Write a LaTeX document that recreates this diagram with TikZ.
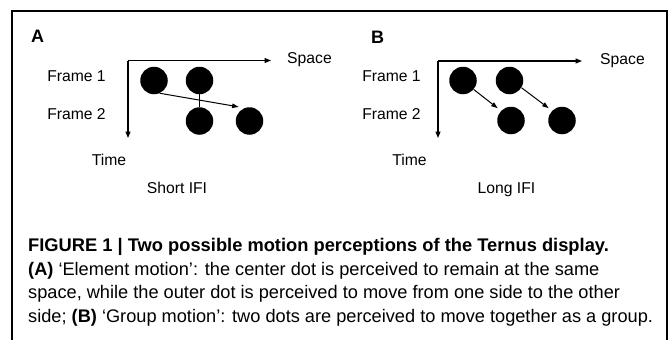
\documentclass[tikz,border=0pt]{standalone}
\usepackage{fontspec}
\setmainfont{Liberation Sans}
\usetikzlibrary{arrows.meta}
\begin{document}
\begin{tikzpicture}[x=1pt,y=-1pt,
  lbl/.style={font=\fontsize{15.7}{18}\selectfont, anchor=base, inner sep=0pt},
  panel/.style={font=\bfseries\fontsize{18}{21}\selectfont, inner sep=0pt},
  captext/.style={font=\fontsize{18.2}{22}\selectfont, anchor=base west, inner sep=0pt},
  dotc/.style={circle, fill=black, minimum size=27.5pt, inner sep=0pt},
  axis/.style={line width=1.2pt, -{Triangle[length=6.5pt,width=5pt]}},
  mv/.style={line width=1pt, -{Triangle[length=6.5pt,width=4.5pt]}}]
\useasboundingbox (0,0) rectangle (670,340);
\draw[line width=2pt] (12,345) -- (12,11) -- (667,11) -- (667,345);
% Panel A
\node[panel] (lA) at (37.5,36.5) {A};
\coordinate (oA) at (128,60.5);
\coordinate (sA) at (271,60.5);
\coordinate (tA) at (128,138);
\draw[axis] (oA) -- (sA);
\draw[axis] (oA) -- (tA);
\node[lbl] (spA) at (309.5,63) {Space};
\node[lbl] (f1A) at (76.5,81.5) {Frame 1};
\node[lbl] (f2A) at (76.5,119) {Frame 2};
\node[lbl] (tmA) at (109,165) {Time};
\node[lbl] (ifA) at (177,193) {Short IFI};
\node[dotc] (a1) at (154,80.5) {};
\node[dotc] (a2) at (199.5,80.5) {};
\node[dotc] (a3) at (199.5,121) {};
\node[dotc] (a4) at (249.5,121) {};
\draw[line width=1pt] (a2.south) -- (a3.north);
\draw[mv] (a1.-66) -- ([xshift=-2.5pt,yshift=3pt]a4.127);
% Panel B
\node[panel] (lB) at (377.5,37) {B};
\coordinate (oB) at (438,61);
\coordinate (sB) at (582,61);
\coordinate (tB) at (438,138);
\draw[axis] (oB) -- (sB);
\draw[axis] (oB) -- (tB);
\node[lbl] (spB) at (622.5,64) {Space};
\node[lbl] (f1B) at (391.5,81.5) {Frame 1};
\node[lbl] (f2B) at (391.5,119) {Frame 2};
\node[lbl] (tmB) at (409.5,165) {Time};
\node[lbl] (ifB) at (506.5,193) {Long IFI};
\node[dotc] (b1) at (463,80.5) {};
\node[dotc] (b2) at (509.5,80.5) {};
\node[dotc] (b3) at (511,120.5) {};
\node[dotc] (b4) at (562,120.5) {};
\draw[mv] (b1.-40) -- ([xshift=-3pt,yshift=3pt]b3.138);
\draw[mv] (b2.-31) -- ([xshift=-3pt,yshift=3pt]b4.138);
% Caption
\node[captext,font=\bfseries\fontsize{18.3}{22}\selectfont] (c1) at (28,251.5) {FIGURE 1 | Two possible motion perceptions of the Ternus display.};
\node[captext] (c2) at (28,275) {\textbf{(A)} `Element motion': the center dot is perceived to remain at the same};
\node[captext] (c3) at (28,298.5) {space, while the outer dot is perceived to move from one side to the other};
\node[captext] (c4) at (28,322) {side; \textbf{(B)} `Group motion': two dots are perceived to move together as a group.};
\end{tikzpicture}
\end{document}
